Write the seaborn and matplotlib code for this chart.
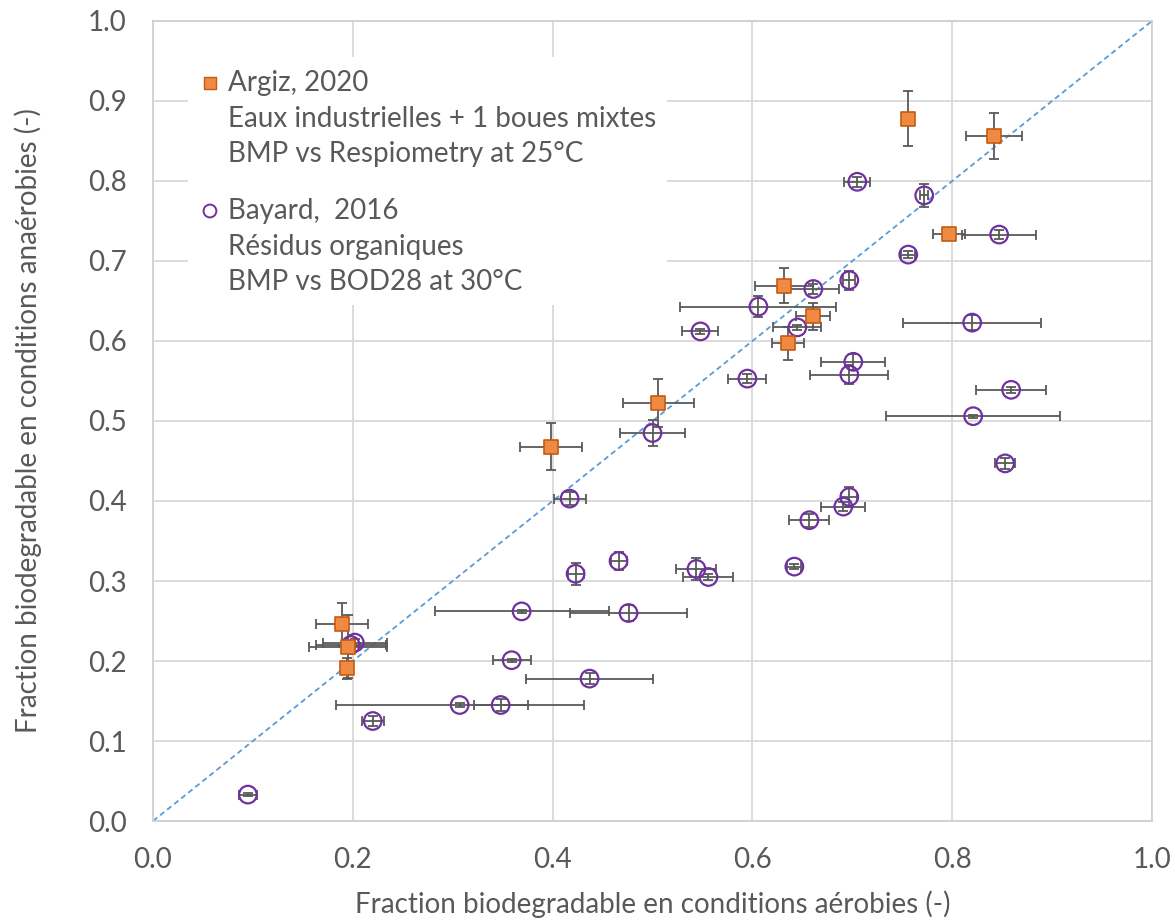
#!/usr/bin/env python3
"""Anaerobic vs aerobic biodegradable fraction (Argiz 2020, Bayard 2016)."""

import matplotlib
matplotlib.use("Agg")
import matplotlib.pyplot as plt
from matplotlib.patches import Rectangle
from matplotlib.ticker import FormatStrFormatter, MultipleLocator
import pandas as pd
import seaborn as sns

# Argiz, 2020 - BMP vs respirometry
argiz_x = [0.756, 0.842, 0.797, 0.632, 0.661, 0.636, 0.506, 0.398, 0.189, 0.195, 0.194]
argiz_y = [0.878, 0.856, 0.734, 0.669, 0.631, 0.597, 0.523, 0.468, 0.246, 0.218, 0.191]
argiz_xerr = [0.0, 0.028, 0.016, 0.029, 0.017, 0.016, 0.036, 0.031, 0.026, 0.039, 0.0]
argiz_yerr = [0.034, 0.029, 0.0, 0.022, 0.017, 0.021, 0.030, 0.029, 0.027, 0.039, 0.013]

# Bayard, 2016 - BMP vs BOD28
bayard_x = [0.705, 0.772, 0.847, 0.756, 0.697, 0.661, 0.606, 0.820, 0.645, 0.548,
            0.701, 0.697, 0.595, 0.859, 0.821, 0.500, 0.853, 0.417, 0.697, 0.691,
            0.657, 0.466, 0.642, 0.544, 0.423, 0.556, 0.369, 0.476, 0.198, 0.202,
            0.359, 0.437, 0.307, 0.348, 0.220, 0.095]
bayard_y = [0.799, 0.782, 0.733, 0.708, 0.676, 0.665, 0.643, 0.623, 0.617, 0.612,
            0.574, 0.558, 0.553, 0.539, 0.506, 0.485, 0.447, 0.403, 0.405, 0.393,
            0.376, 0.325, 0.318, 0.315, 0.309, 0.305, 0.262, 0.260, 0.220, 0.223,
            0.201, 0.178, 0.145, 0.145, 0.125, 0.033]
bayard_xerr = [0.013, 0.004, 0.037, 0.007, 0.006, 0.026, 0.078, 0.069, 0.024, 0.018,
               0.032, 0.039, 0.019, 0.035, 0.087, 0.033, 0.010, 0.016, 0.008, 0.022,
               0.020, 0.008, 0.007, 0.020, 0.008, 0.025, 0.087, 0.059, 0.035, 0.032,
               0.019, 0.064, 0.124, 0.027, 0.011, 0.009]
bayard_yerr = [0.006, 0.014, 0.006, 0.004, 0.012, 0.006, 0.013, 0.009, 0.003, 0.003,
               0.010, 0.012, 0.006, 0.004, 0.002, 0.016, 0.007, 0.008, 0.013, 0.006,
               0.008, 0.011, 0.003, 0.014, 0.014, 0.004, 0.002, 0.010, 0.004, 0.004,
               0.002, 0.007, 0.002, 0.007, 0.006, 0.002]

argiz_lines = ["Argiz, 2020", "Eaux industrielles + 1 boues mixtes", "BMP vs Respiometry at 25°C"]
bayard_lines = ["Bayard,  2016", "Résidus organiques", "BMP vs BOD28 at 30°C"]

ORANGE = "#F08A42"
ORANGE_EDGE = "#C55A11"
PURPLE = "#7030A0"
GREY = "#595959"

sns.set_theme(style="whitegrid")
plt.rcParams["font.family"] = ["Lato", "DejaVu Sans"]
FS = 20

argiz = pd.DataFrame({"x": argiz_x, "y": argiz_y})
bayard = pd.DataFrame({"x": bayard_x, "y": bayard_y})

fig = plt.figure(figsize=(11.73, 9.22), dpi=100)
ax = fig.add_axes([153 / 1173, 1 - 821 / 922, 999 / 1173, 800 / 922])

ax.plot([0, 1], [0, 1], ls=(0, (3, 2)), color="#5B9BD5", lw=1.3, zorder=2)

ax.errorbar(bayard["x"], bayard["y"], xerr=bayard_xerr, yerr=bayard_yerr, fmt="none",
            ecolor=GREY, elinewidth=1.3, capsize=3.5, capthick=1.3, zorder=3)
ax.errorbar(argiz["x"], argiz["y"], xerr=argiz_xerr, yerr=argiz_yerr, fmt="none",
            ecolor=GREY, elinewidth=1.3, capsize=3.5, capthick=1.3, zorder=3)

sns.scatterplot(data=bayard, x="x", y="y", marker="o", s=160, color=PURPLE,
                facecolors="none", edgecolor=PURPLE, linewidth=1.6, zorder=4, ax=ax, legend=False)
sns.scatterplot(data=argiz, x="x", y="y", marker="s", s=110, color=ORANGE,
                edgecolor=ORANGE_EDGE, linewidth=1.2, zorder=5, ax=ax, legend=False)

ax.set_xlim(0, 1)
ax.set_ylim(0, 1)
ax.xaxis.set_major_locator(MultipleLocator(0.2))
ax.yaxis.set_major_locator(MultipleLocator(0.1))
ax.xaxis.set_major_formatter(FormatStrFormatter("%.1f"))
ax.yaxis.set_major_formatter(FormatStrFormatter("%.1f"))
ax.grid(True, color="#D9D9D9", lw=1.3)
ax.set_axisbelow(True)
for sp in ax.spines.values():
    sp.set_color("#D0D0D0")
    sp.set_linewidth(1.3)
ax.tick_params(axis="x", length=0, pad=19, labelsize=FS, labelcolor=GREY)
ax.tick_params(axis="y", length=0, pad=19, labelsize=FS, labelcolor=GREY)

ax.set_xlabel("Fraction biodegradable en conditions aérobies (-)", fontsize=FS, color=GREY)
ax.set_ylabel("Fraction biodegradable en conditions anaérobies (-)", fontsize=FS, color=GREY)
ax.xaxis.set_label_coords(0.5, -0.087)
ax.yaxis.set_label_coords(-0.111, 0.5)

# legend box drawn by hand so markers sit on the first line of each entry
ax.add_patch(Rectangle((0.035, 0.645), 0.48, 0.31, transform=ax.transAxes,
                       facecolor="white", edgecolor="none", zorder=6))
line_y = [0.9225, 0.878, 0.834]
for lines, dy, kind in [(argiz_lines, 0.0, "s"), (bayard_lines, 0.16, "o")]:
    if kind == "s":
        ax.scatter([0.057], [line_y[0] - dy], transform=ax.transAxes, marker="s", s=85,
                   color=ORANGE, edgecolor=ORANGE_EDGE, linewidth=1.0, zorder=7, clip_on=False)
    else:
        ax.scatter([0.057], [line_y[0] - dy], transform=ax.transAxes, marker="o", s=85,
                   facecolors="none", edgecolor=PURPLE, linewidth=1.4, zorder=7, clip_on=False)
    for txt, yy in zip(lines, line_y):
        ax.text(0.075, yy - dy, txt, transform=ax.transAxes, va="center", ha="left",
                fontsize=FS, color=GREY, zorder=7)

fig.savefig("out.png", dpi=100)
